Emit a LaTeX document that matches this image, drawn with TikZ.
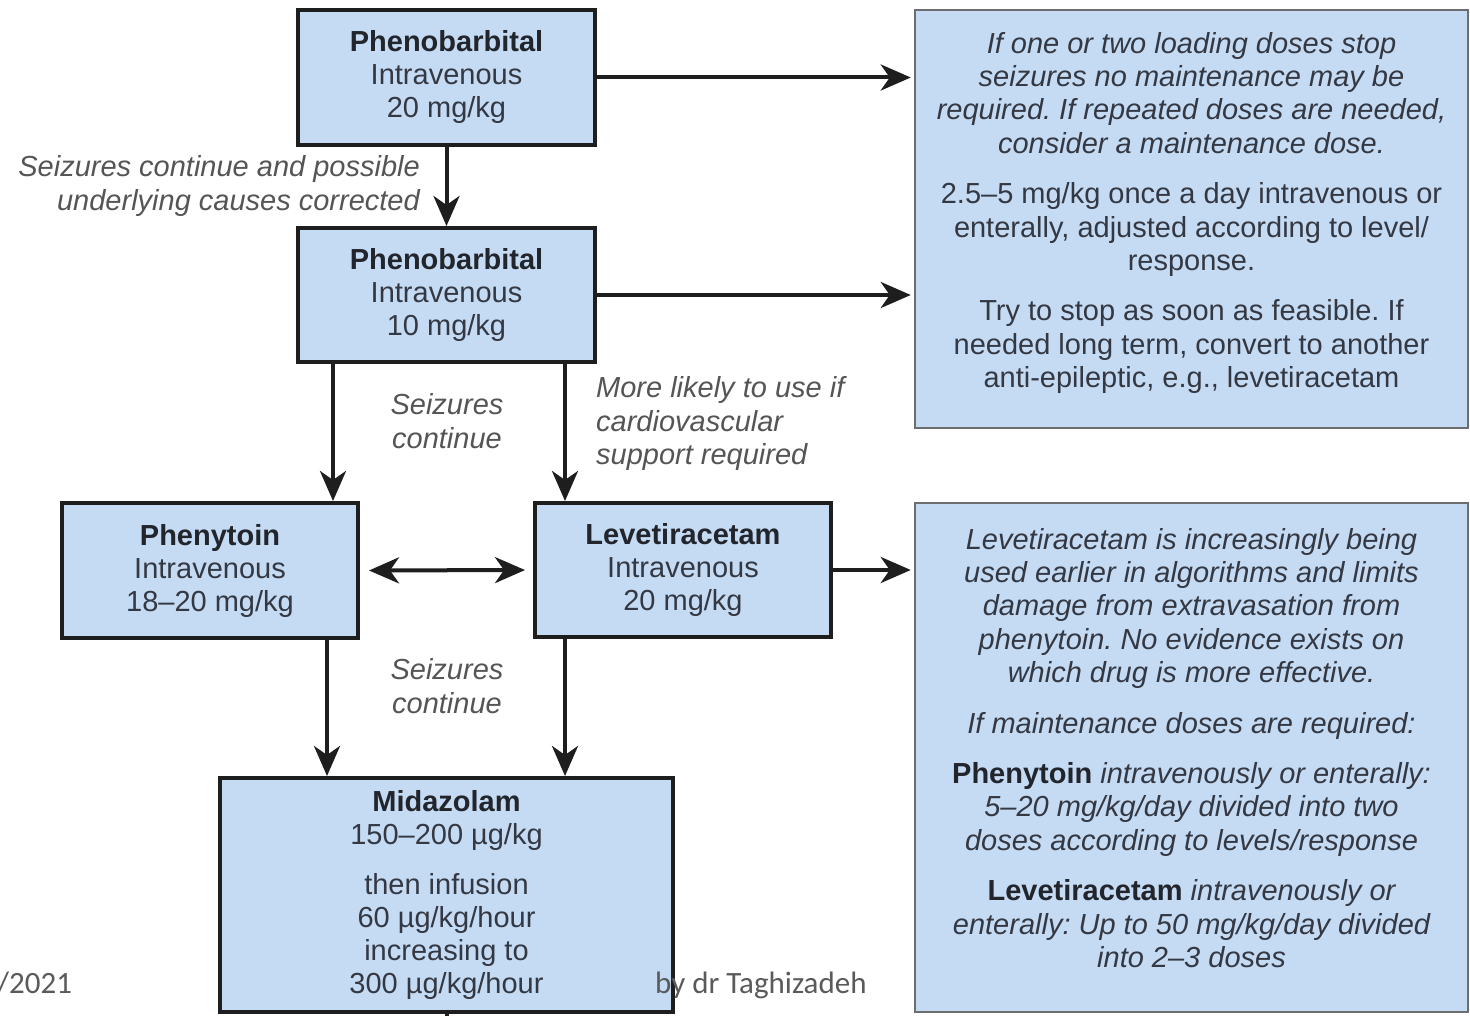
\documentclass[tikz,border=0pt]{standalone}
\usepackage{fontspec}
\setmainfont{Liberation Sans}
\newfontfamily\footfont{Carlito}
\usetikzlibrary{arrows.meta}
\definecolor{boxfill}{HTML}{C5DBF3}
\definecolor{boxline}{HTML}{1E1E1E}
\definecolor{noteline}{HTML}{6E6E6E}
\definecolor{boxtext}{HTML}{343843}
\definecolor{headtext}{HTML}{22252C}
\definecolor{labeltext}{HTML}{555555}
\definecolor{foottext}{HTML}{5A5A5A}
\newcommand\itl[1]{{\itshape #1}}
\newcommand\hd[1]{{\bfseries\color{headtext}#1}}
\frenchspacing
\begin{document}
\begin{tikzpicture}[x=1pt,y=-1pt,
  drug/.style={draw=boxline, line width=4pt, fill=boxfill, align=center, text=boxtext,
    inner sep=0pt, font=\fontsize{29}{33}\selectfont},
  note/.style={draw=noteline, line width=2.5pt, fill=boxfill, inner sep=0pt},
  notetext/.style={align=center, text=boxtext, inner sep=0pt, font=\fontsize{29}{33.4}\selectfont},
  lbl/.style={text=labeltext, inner sep=0pt, font=\fontsize{29}{33.5}\selectfont\itshape},
  foot/.style={text=foottext, inner sep=0pt, font=\footfont\fontsize{31}{36}\selectfont},
  tip/.tip={Stealth[length=30pt,width=26pt,inset=9pt]},
  arr/.style={draw=boxline, line width=4pt, -tip},
  darr/.style={draw=boxline, line width=4pt, tip-tip},
  plain/.style={draw=boxline, line width=4pt},
]
\useasboundingbox[fill=white] (0,0) rectangle (1470,1016);

% drug boxes
\node[drug, minimum width=297pt, minimum height=135pt] (pheno1) at (446.5,77.5)
  {\hd{Phenobarbital}\\Intravenous\\20 mg/kg};
\node[drug, minimum width=297pt, minimum height=134pt] (pheno2) at (446.5,295)
  {\hd{Phenobarbital}\\Intravenous\\10 mg/kg};
\node[drug, minimum width=296pt, minimum height=135pt] (phen) at (210,570.5)
  {\hd{Phenytoin}\\Intravenous\\18–20 mg/kg};
\node[drug, minimum width=296pt, minimum height=134pt] (leve) at (683,570)
  {\hd{Levetiracetam}\\Intravenous\\20 mg/kg};
\node[drug, minimum width=453pt, minimum height=234pt] (mida) at (446.5,895)
  {\hd{Midazolam}\\150–200 µg/kg\\[17pt]then infusion\\60 µg/kg/hour\\increasing to\\300 µg/kg/hour};

% note boxes
\node[note, minimum width=553pt, minimum height=418pt] (note1) at (1191.5,219) {};
\node[notetext] (note1txt) at (1191.5,213)
  {\itl{If one or two loading doses stop}\\
   \itl{seizures no maintenance may be}\\
   \itl{required. If repeated doses are needed,}\\
   \itl{consider a maintenance dose.}\\[17pt]
   2.5–5 mg/kg once a day intravenous or\\
   enterally, adjusted according to level/\\
   response.\\[17pt]
   Try to stop as soon as feasible. If\\
   needed long term, convert to another\\
   anti-epileptic, e.g., levetiracetam};
\node[note, minimum width=553pt, minimum height=509pt] (note2) at (1191.5,757.5) {};
\node[notetext] (note2txt) at (1191.5,748)
  {\itl{Levetiracetam is increasingly being}\\
   \itl{used earlier in algorithms and limits}\\
   \itl{damage from extravasation from}\\
   \itl{phenytoin. No evidence exists on}\\
   \itl{which drug is more effective.}\\[17pt]
   \itl{If maintenance doses are required:}\\[17pt]
   \hd{Phenytoin} \itl{intravenously or enterally:}\\
   \itl{5–20 mg/kg/day divided into two}\\
   \itl{doses according to levels/response}\\[17pt]
   \hd{Levetiracetam} \itl{intravenously or}\\
   \itl{enterally: Up to 50 mg/kg/day divided}\\
   \itl{into 2–3 doses}};

% labels
\node[lbl, anchor=east, align=right] (lab1) at (420,186)
  {Seizures continue and possible\\underlying causes corrected};
\node[lbl, align=center] (lab2) at (447,421) {Seizures\\continue};
\node[lbl, anchor=west, align=left] (lab3) at (596,424)
  {More likely to use if\\cardiovascular\\support required};
\node[lbl, align=center] (lab4) at (447,686) {Seizures\\continue};

% helper columns
\coordinate (cA) at (333,0);
\coordinate (cB) at (565,0);
\coordinate (cC) at (327,0);
\coordinate (out) at (446.5,1016);

% connectors
\draw[arr, shorten >=3pt] (pheno1.east) -- (note1.west |- pheno1.east);
\draw[arr, shorten >=3pt] (pheno2.east) -- (note1.west |- pheno2.east);
\draw[arr] (pheno1.south) -- (pheno2.north);
\draw[arr] (pheno2.south -| cA) -- (phen.north -| cA);
\draw[arr] (pheno2.south -| cB) -- (leve.north -| cB);
\draw[darr, shorten <=9pt, shorten >=8pt] (phen.east) -- (leve.west);
\draw[arr, shorten >=3pt] (leve.east) -- (note2.west |- leve.east);
\draw[arr] (phen.south -| cC) -- (mida.north -| cC);
\draw[arr] (leve.south -| cB) -- (mida.north -| cB);
\draw[plain] (mida.south) -- (out);

% footer
\node[foot, anchor=base west] (date) at (-3,993) {/2021};
\node[foot, anchor=base west] (author) at (655,993) {by dr Taghizadeh};
\end{tikzpicture}
\end{document}
